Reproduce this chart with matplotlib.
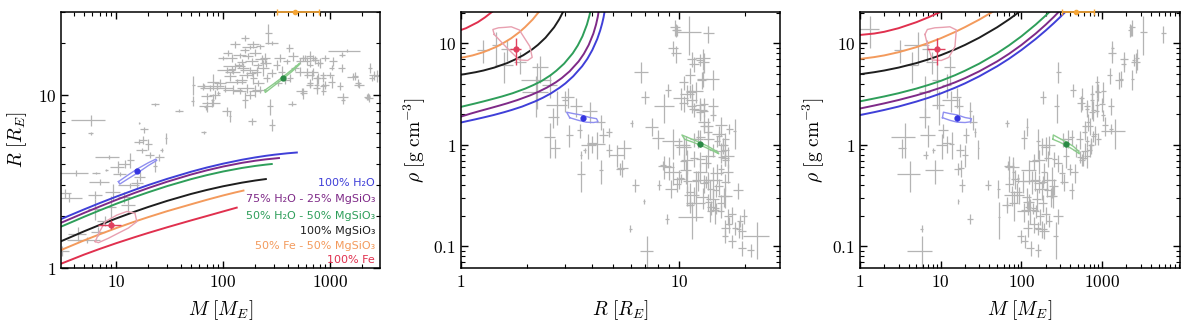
import numpy as np
import matplotlib
matplotlib.use("Agg")
import matplotlib.pyplot as plt
from matplotlib.ticker import LogLocator, FuncFormatter, NullFormatter

plt.rcParams['mathtext.fontset'] = 'cm'
plt.rcParams['font.family'] = ['DejaVu Sans']

RHO_EARTH = 5.51  # g cm^-3

# ---------------- composition mass-radius relations (M in M_E, R in R_E) ----------------
h2o_mass = [0.25, 0.35, 0.5, 0.7, 1, 1.5, 2, 3, 5, 7, 10, 15, 20, 30, 50, 70, 100, 150, 200,
            250, 300, 400, 489]
h2o_radius = [0.948, 1.044, 1.157, 1.274, 1.410, 1.579, 1.709, 1.907, 2.177, 2.368, 2.580, 2.829,
              3.011, 3.268, 3.591, 3.796, 4.000, 4.213, 4.346, 4.438, 4.504, 4.591, 4.639]
w75_mass = [0.3, 0.5, 0.7, 1, 1.5, 2, 3, 5, 7, 10, 15, 20, 30, 50, 70, 100, 150, 200, 250, 333]
w75_radius = [0.963, 1.107, 1.215, 1.342, 1.502, 1.626, 1.815, 2.077, 2.262, 2.470, 2.716, 2.894,
              3.147, 3.461, 3.657, 3.850, 4.044, 4.159, 4.234, 4.310]
w50_mass = [0.4, 0.5, 0.7, 1, 1.5, 2, 3, 5, 7, 10, 15, 20, 30, 50, 70, 100, 150, 200, 250, 285]
w50_radius = [0.980, 1.044, 1.149, 1.271, 1.424, 1.543, 1.724, 1.973, 2.149, 2.346, 2.573, 2.736,
              2.969, 3.254, 3.431, 3.605, 3.778, 3.881, 3.948, 3.981]
mgsio3_mass = [0.8, 1, 1.5, 2, 3, 5, 7, 10, 15, 20, 30, 50, 70, 100, 150, 200, 251]
mgsio3_radius = [0.967, 1.035, 1.167, 1.268, 1.420, 1.627, 1.771, 1.931, 2.117, 2.251, 2.440,
                 2.673, 2.818, 2.962, 3.108, 3.198, 3.260]
fe50_mass = [1, 1.5, 2, 3, 5, 7, 10, 15, 20, 30, 50, 70, 100, 130, 155]
fe50_radius = [0.922, 1.041, 1.131, 1.264, 1.442, 1.564, 1.699, 1.855, 1.967, 2.128, 2.330, 2.472,
               2.622, 2.729, 2.798]
fe_mass = [1, 1.5, 2, 3, 5, 7, 10, 15, 20, 30, 50, 70, 100, 134]
fe_radius = [0.769, 0.871, 0.946, 1.054, 1.194, 1.288, 1.390, 1.508, 1.594, 1.718, 1.881, 1.993,
             2.120, 2.230]

composition_labels = ["100% H₂O", "75% H₂O - 25% MgSiO₃", "50% H₂O - 50% MgSiO₃",
                      "100% MgSiO₃", "50% Fe - 50% MgSiO₃", "100% Fe"]
composition_colors = ["#3f3fd8", "#7f2a88", "#2e9e5a", "#1e1e1e", "#f39a5c", "#e0304e"]

# ---------------- known planets catalogue ----------------
planet_mass = [
    1.33, 3.13, 4.37, 5.30, 6.80, 7.80, 6.40, 8.90, 13.0, 11.9, 9.40, 3.61, 3.35, 6.40, 7.03, 15.8,
    13.5, 16.7, 10.8, 4.17, 6.50, 8.10, 10.3, 23.1, 12.0, 13.6, 8.50, 25.4, 20.7, 17.4, 26.6, 20.0,
    16.3, 18.0, 29.2, 5.80, 18.2, 16.5, 5.80, 23.0, 38.8, 51.9, 52.7, 65.7, 65.7, 68.9, 79.6, 116,
    90.0,
    186, 287, 440, 1315, 1630, 2216, 2600, 3240, 5730, 2330, 1880,
    265, 161, 192, 222, 179, 285, 417, 247, 144, 120, 99, 129, 155, 179, 206, 238, 166, 192, 214,
    149, 134, 116, 108, 94, 87, 81, 76, 65.5, 84, 78, 70, 104, 125, 144, 166, 179, 199, 222, 256,
    285, 317, 341, 394, 454, 524, 584, 650, 724, 806, 898, 524, 605, 699, 778, 866, 650, 544, 750,
    898, 329, 380, 423, 275, 161, 108, 70, 353, 471, 125, 185, 563, 605, 650, 699, 724, 778, 605,
    674, 750, 866, 1000, 1074, 1036, 1285, 1431, 1285, 650, 750, 866, 1036, 1240, 563, 866, 1332,
    1713, 1840, 2365, 2451, 2730, 2282,
    150, 170, 200, 140, 230, 160, 210, 250, 185, 120, 130, 110]
planet_mass_err = [
    0.40, 0.50, 0.80, 1.80, 1.00, 1.20, 1.00, 1.00, 2.00, 1.50, 1.50, 1.20, 0.40, 1.00, 1.50, 2.00,
    3.00, 2.00, 1.50, 1.30, 0.50, 0.30, 1.50, 1.00, 1.50, 1.00, 2.20, 2.50, 2.00, 2.00, 1.00, 1.50,
    1.50, 1.50, 0.50, 0.30, 1.50, 0.30, 2.00, 2.00, 3.00, 2.00, 2.00, 4.00, 2.00, 2.00, 3.00, 3.00,
    3.0,
    15, 20, 40, 150, 200, 150, 300, 300, 400, 200, 200,
    20, 15, 25, 20, 30, 40, 30, 25, 20, 15, 10, 30, 20, 35, 20, 30, 25, 15, 25,
    20, 30, 15, 20, 12, 15, 10, 15, 8, 10, 15, 10, 20, 25, 20, 30, 20, 25, 35, 20,
    30, 25, 40, 30, 50, 40, 60, 50, 60, 50, 70, 50, 40, 80, 50, 60, 40, 60, 50,
    80, 30, 40, 30, 20, 10, 10, 8, 30, 40, 20, 25, 50, 60, 40, 50, 40, 60, 50,
    40, 60, 50, 80, 90, 60, 100, 470, 80, 50, 40, 60, 70, 80, 40, 50, 60,
    100, 120, 100, 120, 150, 80,
    15, 20, 25, 10, 30, 15, 20, 30, 20, 10, 15, 10]
planet_radius = [
    0.81, 1.26, 1.58, 1.45, 1.62, 1.87, 2.20, 2.24, 2.31, 2.56, 2.76, 2.55, 2.70, 2.65, 3.14, 3.08,
    3.00, 3.37, 3.50, 3.54, 3.55, 3.69, 3.84, 3.89, 4.00, 4.18, 4.37, 4.37, 4.50, 4.77, 4.79, 5.18,
    5.36, 5.50, 5.59, 5.98, 6.30, 6.90, 7.10, 8.80, 8.10, 9.17, 11.4, 6.06, 11.2, 8.45, 9.35, 7.50,
    10.2,
    7.01, 6.70, 8.88, 9.69, 12.7, 9.67, 12.95, 11.1, 13.6, 9.60, 11.4,
    22.7, 21.3, 19.5, 19.0, 18.8, 19.9, 18.6, 16.3, 16.9, 16.3, 16.3, 14.6, 14.3, 13.9, 13.6, 14.3,
    13.0, 12.5, 11.7, 12.2, 11.9, 12.8, 13.9, 11.7, 11.2, 11.9, 10.9, 11.2, 10.0, 8.95, 8.56, 10.9,
    10.7, 10.5, 10.9, 10.0, 10.5, 10.7, 12.5, 13.3, 14.9, 16.3, 15.6, 16.7, 15.6, 16.3, 16.7, 15.9,
    15.2, 16.3, 13.6, 13.0, 13.6, 12.5, 13.0, 11.7, 10.5, 10.9, 11.4, 11.7, 12.2, 12.5, 8.56, 9.35,
    8.01, 9.78, 13.6, 14.3, 13.6, 15.6, 16.3, 15.6, 14.9, 16.3, 15.9, 15.2, 13.6, 13.0, 12.5, 12.5,
    13.0, 15.6, 14.3, 14.3, 17.96, 17.0, 11.4, 11.4, 11.2, 11.9, 11.2, 10.2, 10.5, 9.35, 12.8, 11.7,
    14.3, 12.5, 12.8, 9.78,
    15.5, 16.8, 17.5, 14.8, 16.0, 18.0, 14.8, 15.2, 13.3, 14.0, 19.5, 17.5]
planet_radius_err = [
    0.05, 0.08, 0.15, 0.06, 0.10, 0.12, 0.30, 0.35, 0.20, 0.20, 0.30, 0.15, 0.15, 0.15, 0.12, 0.20,
    0.10, 0.20, 0.10, 0.15, 0.05, 0.05, 0.30, 0.30, 0.20, 0.40, 0.10, 0.20, 0.20, 0.15, 0.15, 0.40,
    0.20, 0.30, 0.40, 0.10, 0.25, 0.10, 0.50, 0.20, 0.20, 0.60, 1.50, 0.10, 0.30, 0.30, 0.80, 0.50,
    0.3,
    0.3, 0.5, 0.3, 0.5, 0.6, 0.4, 0.8, 1.5, 0.8, 0.5, 0.5,
    3.0, 0.8, 0.8, 0.6, 0.5, 0.6, 1.0, 1.2, 0.6, 0.8, 0.5, 0.7, 1.0, 0.5, 0.8, 1.5,
    0.6, 0.9, 0.5, 0.7, 0.4, 0.8, 0.5, 0.6, 0.5, 1.2, 0.4, 0.5, 0.6, 0.5, 0.6, 0.5,
    0.6, 0.4, 0.7, 0.5, 0.8, 0.5, 0.6, 0.7, 1.0, 0.8, 0.5, 1.0, 0.6, 0.7, 1.2, 0.5,
    1.0, 0.6, 0.8, 0.5, 0.7, 0.9, 0.5, 0.6, 0.5, 0.8, 0.6, 0.5, 0.7, 0.6, 0.9, 1.0,
    0.5, 0.4, 1.0, 0.6, 0.5, 0.7, 0.6, 0.8, 0.5, 0.7, 0.9, 0.5, 0.6, 0.8, 0.5, 0.7,
    0.6, 1.0, 0.5, 0.8, 0.3, 0.6, 0.5, 0.7, 0.5, 0.9, 0.6, 0.8, 0.5, 0.5, 0.7, 0.6,
    1.0, 0.5, 1.0, 0.4,
    0.6, 0.7, 0.8, 0.5, 0.9, 0.6, 0.5, 0.7, 0.4, 0.6, 0.8, 0.7]

# ---------------- highlighted planets ----------------
hl_mass = [9.0, 15.8, 361]
hl_mass_err = [2.2, 0.8, 15]
hl_radius = [1.78, 3.62, 12.5]
hl_radius_err = [0.10, 0.04, 0.15]
hl_colors = ["#e0405e", "#3535e0", "#2a8a45"]

# posterior contours (mass, radius)
pink_contour_mass = [6.37, 7.0, 7.89, 10.15, 12.6, 15.0, 15.6, 13.0, 10.5, 8.47, 6.83, 6.37]
pink_contour_radius = [1.42, 1.62, 1.85, 2.02, 2.12, 2.07, 1.85, 1.70, 1.59, 1.485, 1.40, 1.42]
blue_contour_mass = [10.5, 13, 16, 20, 23.5, 24, 20, 16, 13, 10.8, 10.5]
blue_contour_radius = [3.15, 3.45, 3.75, 4.05, 4.25, 4.18, 3.90, 3.55, 3.28, 3.05, 3.15]
green_contour_mass = [245, 300, 370, 450, 520, 515, 440, 360, 290, 248, 245]
green_contour_radius = [10.6, 11.6, 12.8, 14.1, 15.2, 14.9, 13.6, 12.3, 11.1, 10.3, 10.6]
contour_colors = ["#e8a0b0", "#8f8ff0", "#8ccc8c"]

# planet off the top of the panels
offscale_mass = [471]
offscale_mass_err = [[151], [319]]
offscale_color = "#f5a535"

# ---------------- derived quantities ----------------
def density(m, r):
    return RHO_EARTH * np.asarray(m, float) / np.asarray(r, float) ** 3

def density_err(m, me, r, re):
    m = np.asarray(m, float); r = np.asarray(r, float)
    rho = density(m, r)
    err = rho * np.sqrt((np.asarray(me) / m) ** 2 + (3 * np.asarray(re) / r) ** 2)
    lo = np.minimum(err, 0.85 * rho)
    return rho, np.vstack([lo, err])

curves = [(h2o_mass, h2o_radius), (w75_mass, w75_radius), (w50_mass, w50_radius),
          (mgsio3_mass, mgsio3_radius), (fe50_mass, fe50_radius), (fe_mass, fe_radius)]

p_rho, p_rho_err = density_err(planet_mass, planet_mass_err, planet_radius, planet_radius_err)
h_rho, h_rho_err = density_err(hl_mass, hl_mass_err, hl_radius, hl_radius_err)
contours = [(pink_contour_mass, pink_contour_radius),
            (blue_contour_mass, blue_contour_radius),
            (green_contour_mass, green_contour_radius)]

# ---------------- figure ----------------
fig = plt.figure(figsize=(12, 3.25), dpi=100)
ax1 = fig.add_axes([61 / 1200, 57 / 325, 319 / 1200, 256 / 325])
ax2 = fig.add_axes([461 / 1200, 57 / 325, 319 / 1200, 256 / 325])
ax3 = fig.add_axes([860 / 1200, 57 / 325, 320 / 1200, 256 / 325])

gray = "#b4b4b4"

def gray_points(ax, x, y, xerr, yerr):
    ax.errorbar(x, y, xerr=xerr, yerr=yerr, fmt='none', ecolor=gray, elinewidth=0.9,
                capsize=0, zorder=1)

gray_points(ax1, planet_mass, planet_radius, planet_mass_err, planet_radius_err)
gray_points(ax2, planet_radius, p_rho, planet_radius_err, p_rho_err)
gray_points(ax3, planet_mass, p_rho, planet_mass_err, p_rho_err)

for (cm, cr), col in zip(curves, composition_colors):
    ax1.plot(cm, cr, color=col, lw=1.4, zorder=2)
    ax2.plot(cr, density(cm, cr), color=col, lw=1.4, zorder=2)
    ax3.plot(cm, density(cm, cr), color=col, lw=1.4, zorder=2)

for (cm, cr), col in zip(contours, contour_colors):
    ax1.plot(cm, cr, color=col, lw=1.0, zorder=3)
    ax2.plot(cr, density(cm, cr), color=col, lw=1.0, zorder=3)
    ax3.plot(cm, density(cm, cr), color=col, lw=1.0, zorder=3)

for i, col in enumerate(hl_colors):
    ax1.errorbar([hl_mass[i]], [hl_radius[i]], xerr=[hl_mass_err[i]], yerr=[hl_radius_err[i]],
                 fmt='o', color=col, ms=3.5, elinewidth=1.0, capsize=0, zorder=4)
    ax2.errorbar([hl_radius[i]], [h_rho[i]], xerr=[hl_radius_err[i]],
                 yerr=h_rho_err[:, i:i + 1], fmt='o', color=col, ms=3.5, elinewidth=1.0,
                 capsize=0, zorder=4)
    ax3.errorbar([hl_mass[i]], [h_rho[i]], xerr=[hl_mass_err[i]],
                 yerr=h_rho_err[:, i:i + 1], fmt='o', color=col, ms=3.5, elinewidth=1.0,
                 capsize=0, zorder=4)

ax1.set_xscale('log'); ax1.set_yscale('log')
ax1.set_xlim(3.05, 2930); ax1.set_ylim(1, 30)
ax2.set_xscale('log'); ax2.set_yscale('log')
ax2.set_xlim(1, 29); ax2.set_ylim(0.061, 20.4)
ax3.set_xscale('log'); ax3.set_yscale('log')
ax3.set_xlim(1, 9200); ax3.set_ylim(0.061, 20.4)

for ax, ytop in ((ax1, 30), (ax3, 20.4)):
    eb = ax.errorbar(offscale_mass, [ytop], xerr=offscale_mass_err, fmt='o', color=offscale_color,
                     ms=3, elinewidth=1.2, capsize=2, zorder=5)
    for art in eb.get_children():
        art.set_clip_on(False)

ys = [0.332, 0.268, 0.203, 0.145, 0.087, 0.030]
for lab, col, y in zip(composition_labels, composition_colors, ys):
    ax1.text(0.985, y, lab, color=col, fontsize=8.0, ha='right', va='center',
             transform=ax1.transAxes)

def dec_fmt(v, pos):
    return r'$\mathrm{%s}$' % ('%g' % v)

for ax in (ax1, ax2, ax3):
    ax.xaxis.set_major_locator(LogLocator(base=10, numticks=20))
    ax.yaxis.set_major_locator(LogLocator(base=10, numticks=20))
    ax.xaxis.set_minor_locator(LogLocator(base=10, subs=np.arange(2, 10), numticks=20))
    ax.yaxis.set_minor_locator(LogLocator(base=10, subs=np.arange(2, 10), numticks=20))
    ax.xaxis.set_major_formatter(FuncFormatter(dec_fmt))
    ax.yaxis.set_major_formatter(FuncFormatter(dec_fmt))
    ax.xaxis.set_minor_formatter(NullFormatter())
    ax.yaxis.set_minor_formatter(NullFormatter())
    ax.tick_params(which='both', direction='in', top=True, right=True, labelsize=12.5)
    ax.tick_params(which='major', length=5, width=1.0)
    ax.tick_params(which='minor', length=2.8, width=0.8)
    for sp in ax.spines.values():
        sp.set_linewidth(1.1)

ax1.set_xlabel(r'$M\ [M_E]$', fontsize=14, labelpad=5)
ax1.set_ylabel(r'$R\ [R_E]$', fontsize=14, labelpad=6)
ax2.set_xlabel(r'$R\ [R_E]$', fontsize=14, labelpad=5)
ax2.set_ylabel(r'$\rho\ [\mathrm{g\ cm^{-3}}]$', fontsize=14, labelpad=4)
ax3.set_xlabel(r'$M\ [M_E]$', fontsize=14, labelpad=5)
ax3.set_ylabel(r'$\rho\ [\mathrm{g\ cm^{-3}}]$', fontsize=14, labelpad=4)

fig.savefig('out.png', dpi=100)
